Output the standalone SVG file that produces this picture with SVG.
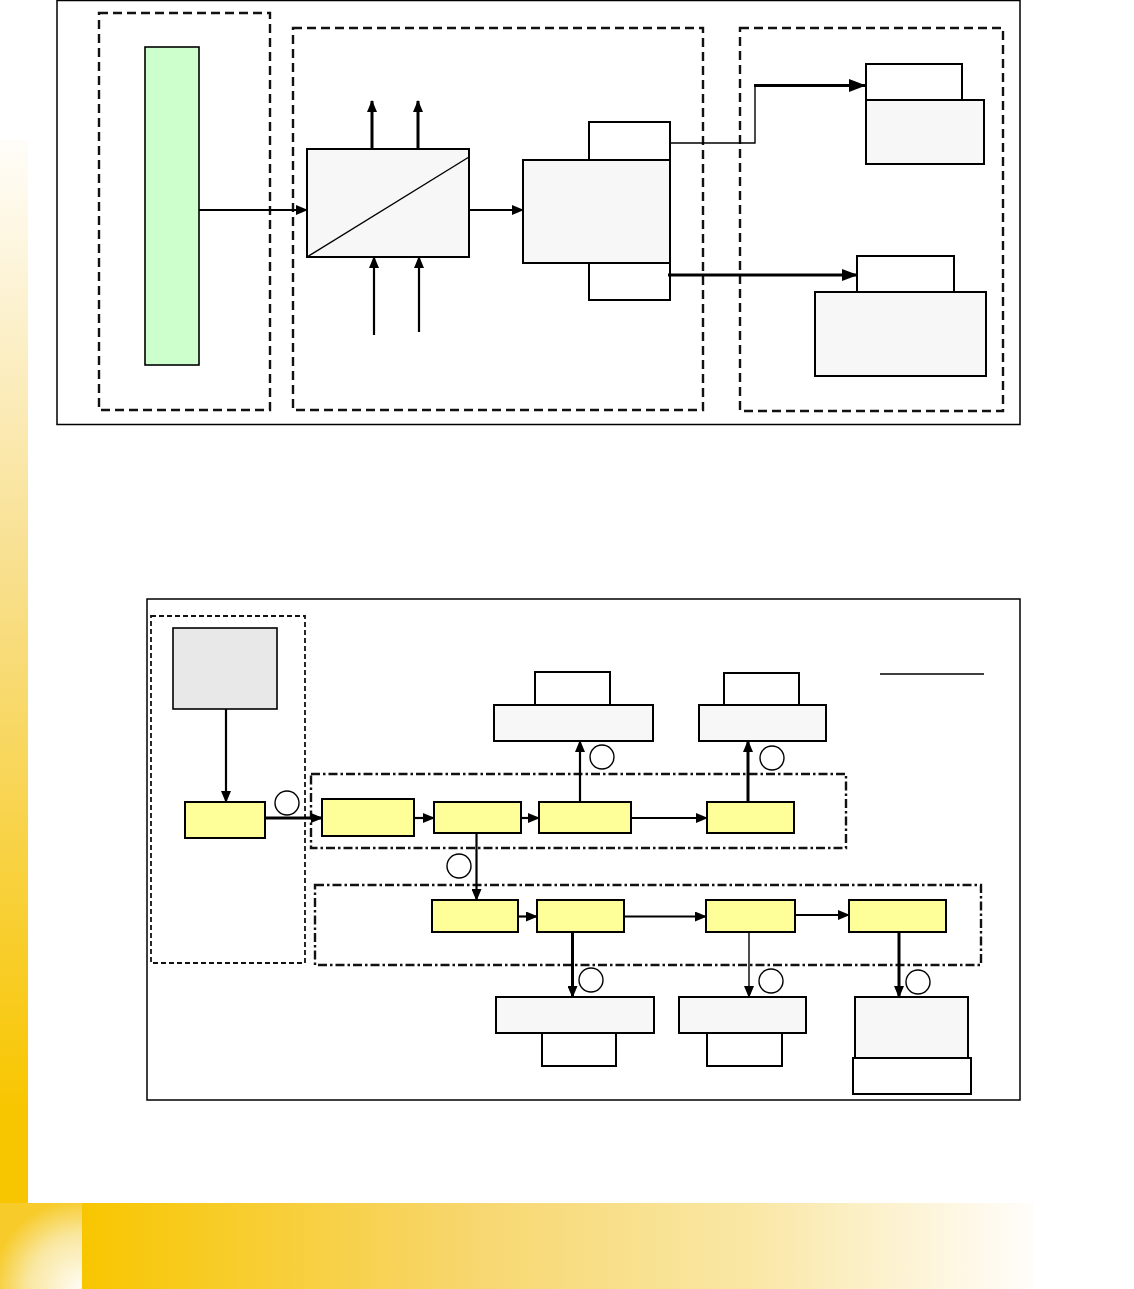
<svg xmlns="http://www.w3.org/2000/svg" width="1134" height="1289" viewBox="0 0 1134 1289">
<style>
.frame{fill:#fff;stroke:#000;stroke-width:1.5}
.dash{fill:none;stroke:#111;stroke-width:2.4;stroke-dasharray:9 5}
.dash2{fill:none;stroke:#111;stroke-width:1.8;stroke-dasharray:5 3}
.dd{fill:none;stroke:#111;stroke-width:2.4;stroke-dasharray:9 3 2.5 3}
.box{fill:#F7F7F7;stroke:#000;stroke-width:2}
.wbox{fill:#fff;stroke:#000;stroke-width:2}
.yel{fill:#FFFF99;stroke:#000;stroke-width:2}
.gray{fill:#E8E8E8;stroke:#000;stroke-width:1.6}
.green{fill:#CCFFCC;stroke:#000;stroke-width:1.6}
.c{fill:#fff;stroke:#000;stroke-width:1.4}
.ln{fill:none;stroke:#000;stroke-width:2.2}
.ln3{fill:none;stroke:#000;stroke-width:3}
.thin{fill:none;stroke:#000;stroke-width:1.4}
</style>
<defs>
<linearGradient id="gv" gradientUnits="userSpaceOnUse" x1="0" y1="140" x2="0" y2="1110">
<stop offset="0" stop-color="#FFFDF9"/>
<stop offset="0.45" stop-color="#F8DF8C"/>
<stop offset="1" stop-color="#F8C600"/>
</linearGradient>
<linearGradient id="gh" gradientUnits="userSpaceOnUse" x1="82" y1="0" x2="1034" y2="0">
<stop offset="0" stop-color="#F8C600"/>
<stop offset="0.4" stop-color="#F7D66C"/>
<stop offset="0.7" stop-color="#F9E7A4"/>
<stop offset="1" stop-color="#FFFDFB"/>
</linearGradient>
<radialGradient id="gc" gradientUnits="userSpaceOnUse" cx="82" cy="1289" r="90">
<stop offset="0" stop-color="#FFFDF6"/>
<stop offset="0.6" stop-color="#F9E7A0"/>
<stop offset="1" stop-color="#F7CB2A"/>
</radialGradient>
<marker id="ah" markerUnits="userSpaceOnUse" markerWidth="16" markerHeight="12" refX="15" refY="6" orient="auto">
<path d="M0,0 L16,6 L0,12 Z" fill="#000"/>
</marker>
<marker id="as" markerUnits="userSpaceOnUse" markerWidth="12" markerHeight="10" refX="11" refY="5" orient="auto">
<path d="M0,0 L12,5 L0,10 Z" fill="#000"/>
</marker>
<marker id="al" markerUnits="userSpaceOnUse" markerWidth="17" markerHeight="13" refX="16" refY="6.5" orient="auto">
<path d="M0,0 L17,6.5 L0,13 Z" fill="#000"/>
</marker>
</defs>

<g id="background">
<rect x="0" y="140" width="28" height="1063" fill="url(#gv)"/>
<rect x="82" y="1203" width="952" height="86" fill="url(#gh)"/>
<rect x="0" y="1203" width="82" height="86" fill="url(#gc)"/>
</g>

<g id="top-frame"><rect class="frame" x="57" y="0.5" width="963" height="424"/></g>
<g id="group-left"><rect class="dash" x="99" y="13" width="171" height="397"/></g>
<g id="group-mid"><rect class="dash" x="293" y="28" width="410" height="382"/></g>
<g id="group-right"><rect class="dash" x="740" y="28" width="263" height="383"/></g>
<g id="green-bar"><rect class="green" x="145" y="47" width="54" height="318"/></g>
<g id="converter"><rect class="box" x="307" y="149" width="162" height="108"/><line class="thin" x1="307" y1="257" x2="469" y2="157"/></g>
<g id="unit-main"><rect class="box" x="523" y="160" width="147" height="103"/></g>
<g id="unit-top"><rect class="wbox" x="589" y="122" width="81" height="38"/></g>
<g id="unit-bottom"><rect class="wbox" x="589" y="263" width="81" height="37"/></g>
<g id="out1-head"><rect class="wbox" x="866" y="64" width="96" height="36"/></g>
<g id="out1-body"><rect class="box" x="866" y="100" width="118" height="64"/></g>
<g id="out2-head"><rect class="wbox" x="857" y="256" width="97" height="36"/></g>
<g id="out2-body"><rect class="box" x="815" y="292" width="171" height="84"/></g>

<g id="bottom-frame"><rect class="frame" x="147" y="599" width="873" height="501"/></g>
<g id="group-src"><rect class="dash2" x="151" y="616" width="154" height="347"/></g>
<g id="lane1"><rect class="dd" x="311" y="774" width="535" height="74"/></g>
<g id="lane2"><rect class="dd" x="315" y="885" width="666" height="80"/></g>
<g id="src"><rect class="gray" x="173" y="628" width="104" height="81"/></g>
<g id="y1"><rect class="yel" x="185" y="802" width="80" height="36"/></g>
<g id="y2"><rect class="yel" x="322" y="799" width="92" height="37"/></g>
<g id="y3"><rect class="yel" x="434" y="802" width="87" height="31"/></g>
<g id="y4"><rect class="yel" x="539" y="802" width="92" height="31"/></g>
<g id="y5"><rect class="yel" x="707" y="802" width="87" height="31"/></g>
<g id="y6"><rect class="yel" x="432" y="900" width="86" height="32"/></g>
<g id="y7"><rect class="yel" x="537" y="900" width="87" height="32"/></g>
<g id="y8"><rect class="yel" x="706" y="900" width="89" height="32"/></g>
<g id="y9"><rect class="yel" x="849" y="900" width="97" height="32"/></g>
<g id="t1"><rect class="wbox" x="535" y="672" width="75" height="33"/><rect class="box" x="494" y="705" width="159" height="36"/></g>
<g id="t2"><rect class="wbox" x="724" y="673" width="75" height="33"/><rect class="box" x="699" y="705" width="127" height="36"/></g>
<g id="b1"><rect class="box" x="496" y="997" width="158" height="36"/><rect class="wbox" x="542" y="1033" width="74" height="33"/></g>
<g id="b2"><rect class="box" x="679" y="997" width="127" height="36"/><rect class="wbox" x="707" y="1033" width="75" height="33"/></g>
<g id="b3"><rect class="box" x="855" y="997" width="113" height="61"/><rect class="wbox" x="853" y="1058" width="118" height="36"/></g>
<g id="circles">
<circle class="c" cx="287" cy="803" r="12"/>
<circle class="c" cx="602" cy="757" r="12"/>
<circle class="c" cx="772" cy="758" r="12"/>
<circle class="c" cx="459" cy="866" r="12"/>
<circle class="c" cx="591" cy="980" r="12"/>
<circle class="c" cx="771" cy="981" r="12"/>
<circle class="c" cx="918" cy="982" r="12"/>
</g>
<g id="legend-line"><line class="thin" x1="880" y1="674" x2="984" y2="674"/></g>

<g id="connectors">
<line class="ln" x1="199" y1="210" x2="307" y2="210" marker-end="url(#as)"/>
<line class="ln3" x1="372" y1="149" x2="372" y2="101" marker-end="url(#as)"/>
<line class="ln3" x1="418" y1="149" x2="418" y2="101" marker-end="url(#as)"/>
<line class="ln" x1="374" y1="335" x2="374" y2="257" marker-end="url(#as)"/>
<line class="ln" x1="419" y1="332" x2="419" y2="257" marker-end="url(#as)"/>
<line class="ln" x1="469" y1="210" x2="523" y2="210" marker-end="url(#as)"/>
<polyline class="thin" points="670,143 755,143 755,86"/>
<line class="ln3" x1="754" y1="85.5" x2="865" y2="85.5" marker-end="url(#al)"/>
<line class="ln3" x1="668" y1="275" x2="857" y2="275" marker-end="url(#ah)"/>
<line class="ln" x1="226" y1="709" x2="226" y2="802" marker-end="url(#as)"/>
<line class="ln3" x1="265" y1="818" x2="322" y2="818" marker-end="url(#as)"/>
<line class="ln" x1="414" y1="818" x2="434" y2="818" marker-end="url(#as)"/>
<line class="ln" x1="521" y1="818" x2="539" y2="818" marker-end="url(#as)"/>
<line class="ln" x1="631" y1="818" x2="707" y2="818" marker-end="url(#as)"/>
<line class="ln" x1="580" y1="802" x2="580" y2="741" marker-end="url(#as)"/>
<line class="ln3" x1="748" y1="802" x2="748" y2="741" marker-end="url(#as)"/>
<line class="ln" x1="476.5" y1="833" x2="476.5" y2="900" marker-end="url(#as)"/>
<line class="ln" x1="518" y1="916.5" x2="537" y2="916.5" marker-end="url(#as)"/>
<line class="ln" x1="624" y1="916.5" x2="706" y2="916.5" marker-end="url(#as)"/>
<line class="ln" x1="795" y1="915" x2="849" y2="915" marker-end="url(#as)"/>
<line class="ln3" x1="572.5" y1="932" x2="572.5" y2="997" marker-end="url(#as)"/>
<line class="thin" x1="749" y1="932" x2="749" y2="997" marker-end="url(#as)"/>
<line class="ln3" x1="899" y1="932" x2="899" y2="997" marker-end="url(#as)"/>
</g>
</svg>
